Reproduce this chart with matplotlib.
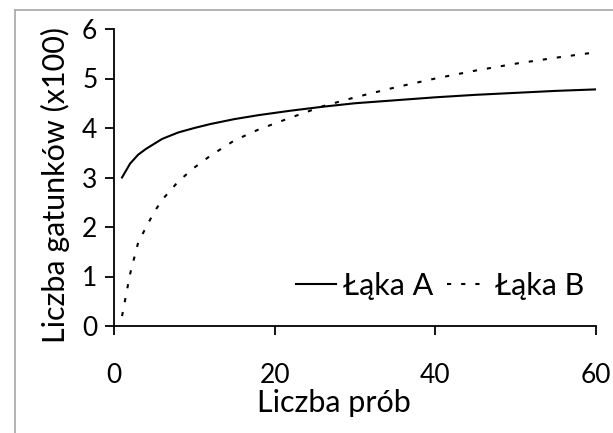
import matplotlib
matplotlib.use("Agg")
import matplotlib.pyplot as plt
from matplotlib.lines import Line2D

plt.rcParams['font.family'] = ['Lato', 'DejaVu Sans']

# liczba prob
x = [1, 2, 3, 4, 5, 6, 8, 10, 12, 15, 18, 22, 26, 30, 35, 40, 45, 50, 55, 60]
# Laka A (x100)
lakaA = [3.0, 3.28, 3.46, 3.58, 3.68, 3.78, 3.91, 4.00, 4.08, 4.18,
         4.26, 4.35, 4.43, 4.50, 4.56, 4.62, 4.67, 4.71, 4.75, 4.78]
# Laka B (x100)
lakaB = [0.2, 1.05, 1.68, 2.0, 2.3, 2.55, 2.92, 3.2, 3.44, 3.75,
         3.97, 4.21, 4.44, 4.62, 4.82, 5.0, 5.16, 5.3, 5.42, 5.53]

xticks = [0, 20, 40, 60]
yticks = [0, 1, 2, 3, 4, 5, 6]

fig = plt.figure(figsize=(6.13, 4.33), dpi=100)
ax = fig.add_axes([114/613, 1-326/433, (596-114)/613, (326-29)/433])

ax.plot(x, lakaA, color='black', lw=1.5, label='Łąka A')
ax.plot(x, lakaB, color='black', lw=1.5, dashes=(2, 4.8), label='Łąka B')

ax.set_xlim(0, 60)
ax.set_ylim(0, 6)
ax.set_xticks(xticks)
ax.set_yticks(yticks)
for s in ['top', 'right']:
    ax.spines[s].set_visible(False)
for s in ['left', 'bottom']:
    ax.spines[s].set_linewidth(1.3)
ax.tick_params(direction='out', length=6.5, width=1.3, labelsize=19, pad=5.5)
ax.tick_params(axis='x', pad=20)

ax.set_xlabel('Liczba prób', fontsize=22)
ax.set_ylabel('Liczba gatunków (x100)', fontsize=22)
ax.xaxis.set_label_coords(0.457, -0.212)
ax.yaxis.set_label_coords(-0.092, 0.475)

ax.legend(loc='center right', frameon=False, fontsize=22, ncol=2,
          handlelength=1.3, columnspacing=0.45, handletextpad=0.25,
          borderpad=0, borderaxespad=0,
          bbox_to_anchor=(0.975, 0.135))

# szara ramka wykresu (lewa i gorna krawedz)
fig.add_artist(Line2D([15/613, 15/613], [0, 1-10/433], color='#a6a6a6', lw=1.2))
fig.add_artist(Line2D([15/613, 1], [1-10/433, 1-10/433], color='#a6a6a6', lw=1.2))

fig.savefig('out.png', dpi=100)
